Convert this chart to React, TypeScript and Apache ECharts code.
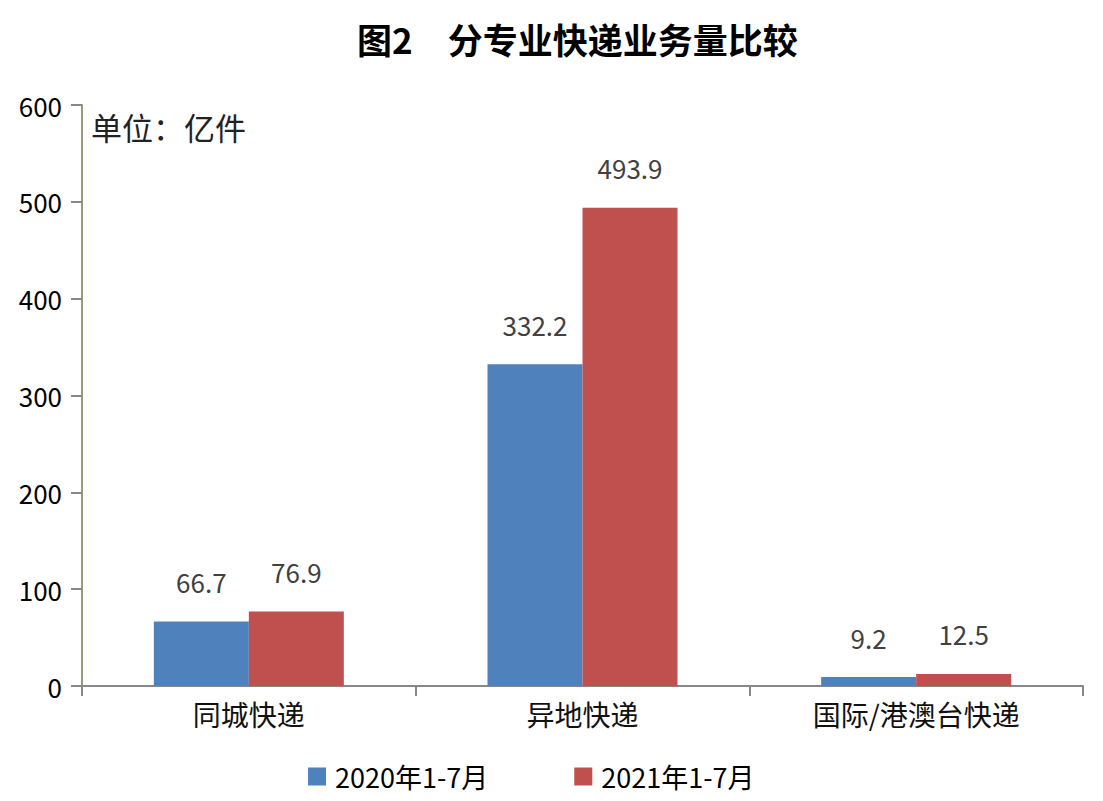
import React, { useEffect, useRef } from "react";
import * as echarts from "echarts";

const categories = ["同城快递", "异地快递", "国际/港澳台快递"];
const series2020 = [66.7, 332.2, 9.2];
const series2021 = [76.9, 493.9, 12.5];
const seriesNames = ["2020年1-7月", "2021年1-7月"];
const titleText = "图2　分专业快递业务量比较";
const unitText = "单位：亿件";

const FONT = "'Noto Sans CJK SC', 'Noto Sans', sans-serif";

export default function App() {
  const ref = useRef<HTMLDivElement>(null);
  useEffect(() => {
    if (!ref.current) return;
    const chart = echarts.init(ref.current, null, { renderer: "svg" });
    const labelStyle = {
      show: true,
      position: "top" as const,
      distance: 27,
      fontSize: 26,
      color: "#404040",
      fontFamily: FONT,
    };
    chart.setOption({
      animation: false,
      backgroundColor: "#ffffff",
      textStyle: { fontFamily: FONT },
      title: {
        text: titleText,
        left: 352,
        top: 16,
        textStyle: { fontSize: 35, fontWeight: "bold", color: "#000", fontFamily: FONT },
      },
      graphic: [
        {
          type: "text",
          left: 91,
          top: 111,
          style: { text: unitText, fontSize: 31, fill: "#222", fontFamily: FONT },
        },
      ],
      legend: {
        bottom: 6,
        left: 303,
        itemWidth: 18,
        itemHeight: 18,
        itemGap: 86,
        icon: "rect",
        textStyle: { fontSize: 27, color: "#000", fontFamily: FONT, padding: [0, 0, 0, 4] },
        data: seriesNames,
      },
      grid: { left: 82, right: 20, top: 105, bottom: 115, containLabel: false },
      xAxis: {
        type: "category",
        data: categories,
        axisLine: { lineStyle: { color: "#888888", width: 2 } },
        axisTick: { show: true, alignWithLabel: false, length: 10, lineStyle: { color: "#888888", width: 2 } },
        axisLabel: { fontSize: 28, color: "#111", margin: 14, fontFamily: FONT },
      },
      yAxis: {
        type: "value",
        min: 0,
        max: 600,
        interval: 100,
        splitLine: { show: false },
        axisLine: { show: true, lineStyle: { color: "#9a9a78", width: 2 } },
        axisTick: { show: true, length: 11, lineStyle: { color: "#888888", width: 2 } },
        axisLabel: { fontSize: 26, color: "#000", margin: 20, fontFamily: FONT },
      },
      series: [
        {
          name: seriesNames[0],
          type: "bar",
          data: series2020,
          barWidth: 95,
          barGap: "0%",
          itemStyle: { color: "#4f81bd" },
          label: labelStyle,
        },
        {
          name: seriesNames[1],
          type: "bar",
          data: series2021,
          barWidth: 95,
          barGap: "0%",
          itemStyle: { color: "#c0504d" },
          label: labelStyle,
        },
      ],
    });
    return () => chart.dispose();
  }, []);
  return (
    <div
      ref={ref}
      style={{ position: "fixed", left: 0, top: 0, width: 1103, height: 801, background: "#fff" }}
    />
  );
}
